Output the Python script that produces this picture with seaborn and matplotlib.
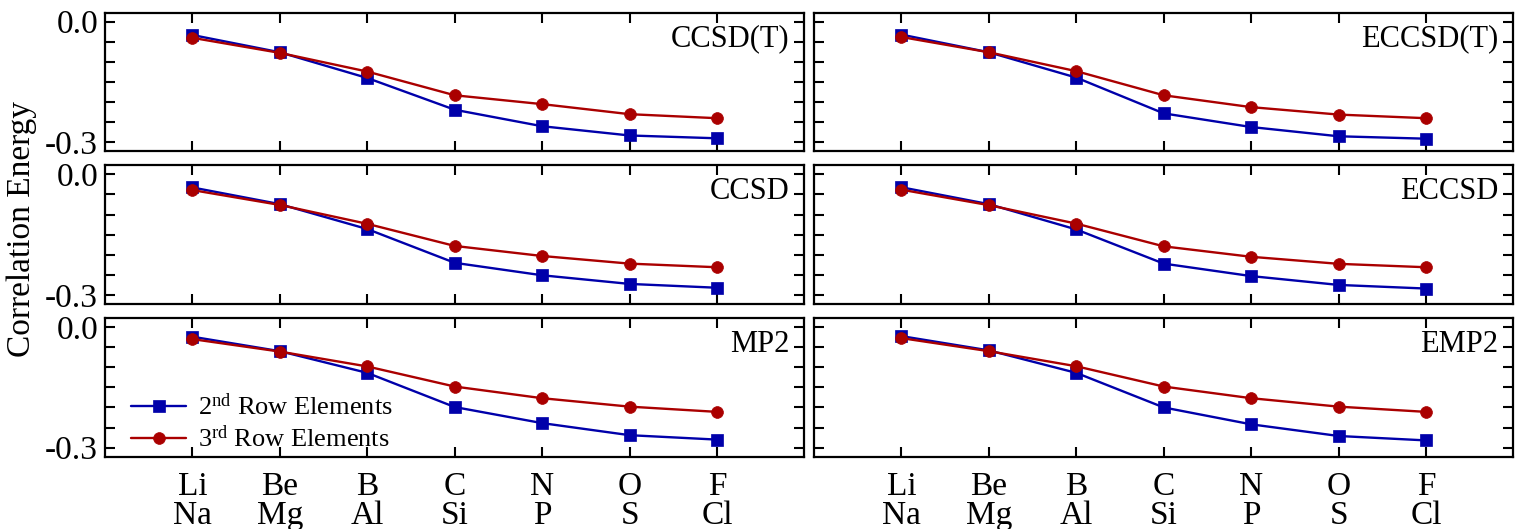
import matplotlib
matplotlib.use("Agg")
import matplotlib.pyplot as plt
import seaborn as sns
import numpy as np
import pandas as pd
from matplotlib.ticker import FixedLocator

sns.set_style("white")
plt.rcParams['font.family'] = ['Liberation Serif', 'DejaVu Serif']
plt.rcParams['mathtext.fontset'] = 'custom'
plt.rcParams['mathtext.rm'] = 'Liberation Serif'
plt.rcParams['mathtext.it'] = 'Liberation Serif:italic'
plt.rcParams['axes.unicode_minus'] = False
for key in ['text.color', 'axes.labelcolor', 'xtick.color', 'ytick.color', 'axes.edgecolor']:
    plt.rcParams[key] = 'black'

# ---- data ----
elements_2nd = ["Li", "Be", "B", "C", "N", "O", "F"]
elements_3rd = ["Na", "Mg", "Al", "Si", "P", "S", "Cl"]
tick_labels = [f"{a}\n{b}" for a, b in zip(elements_2nd, elements_3rd)]

methods = ["CCSD(T)", "ECCSD(T)", "CCSD", "ECCSD", "MP2", "EMP2"]

ccsdt_2nd = [-0.033, -0.076, -0.140, -0.219, -0.260, -0.283, -0.290]
ccsdt_3rd = [-0.040, -0.0775, -0.124, -0.183, -0.205, -0.230, -0.240]
eccsdt_2nd = [-0.032, -0.076, -0.139, -0.228, -0.262, -0.285, -0.291]
eccsdt_3rd = [-0.038, -0.076, -0.123, -0.183, -0.2125, -0.231, -0.240]
ccsd_2nd = [-0.0325, -0.074, -0.136, -0.220, -0.251, -0.2725, -0.282]
ccsd_3rd = [-0.039, -0.076, -0.123, -0.178, -0.203, -0.222, -0.231]
eccsd_2nd = [-0.032, -0.074, -0.137, -0.222, -0.253, -0.275, -0.284]
eccsd_3rd = [-0.038, -0.0765, -0.1225, -0.179, -0.205, -0.2225, -0.231]
mp2_2nd = [-0.024, -0.060, -0.114, -0.199, -0.239, -0.269, -0.280]
mp2_3rd = [-0.030, -0.061, -0.098, -0.148, -0.177, -0.198, -0.211]
emp2_2nd = [-0.0225, -0.058, -0.114, -0.200, -0.242, -0.271, -0.282]
emp2_3rd = [-0.0275, -0.060, -0.0975, -0.148, -0.177, -0.198, -0.211]

series = {
    "CCSD(T)": (ccsdt_2nd, ccsdt_3rd),
    "ECCSD(T)": (eccsdt_2nd, eccsdt_3rd),
    "CCSD": (ccsd_2nd, ccsd_3rd),
    "ECCSD": (eccsd_2nd, eccsd_3rd),
    "MP2": (mp2_2nd, mp2_3rd),
    "EMP2": (emp2_2nd, emp2_3rd),
}

label_2nd = "2$^{\\rm nd}$ Row Elements"
label_3rd = "3$^{\\rm rd}$ Row Elements"
blue = "#0000AA"
red = "#AA0000"

fig, axes = plt.subplots(3, 2, figsize=(15.15, 5.29), dpi=100)
fig.subplots_adjust(left=0.0693, right=0.999, top=0.976, bottom=0.1367,
                    wspace=0.0136, hspace=0.101)

pos = np.arange(len(elements_2nd))
for k, m in enumerate(methods):
    ax = axes[k // 2, k % 2]
    v2, v3 = series[m]
    df = pd.DataFrame({"pos": np.concatenate([pos, pos]),
                       "energy": v2 + v3,
                       "row": [label_2nd] * len(pos) + [label_3rd] * len(pos)})
    sns.lineplot(data=df[df.row == label_2nd], x="pos", y="energy", ax=ax,
                 color=blue, marker="s", markersize=8, markeredgewidth=0.5,
                 markeredgecolor=blue, linewidth=1.7, label=label_2nd, legend=False)
    sns.lineplot(data=df[df.row == label_3rd], x="pos", y="energy", ax=ax,
                 color=red, marker="o", markersize=8.5, markeredgewidth=0.5,
                 markeredgecolor=red, linewidth=1.7, label=label_3rd, legend=False)
    ax.set_xlim(-1, 7)
    ax.set_ylim(-0.3225, 0.0225)
    ax.set_xlabel("")
    ax.set_ylabel("")
    ax.xaxis.set_major_locator(FixedLocator(pos))
    ax.yaxis.set_major_locator(FixedLocator([-0.3, 0.0]))
    ax.yaxis.set_minor_locator(FixedLocator([-0.25, -0.2, -0.15, -0.1, -0.05]))
    ax.tick_params(which="both", direction="in", top=True, bottom=True,
                   left=True, right=True, length=7, width=1.5, color="black")
    ax.tick_params(axis="x", pad=11, labelsize=24)
    ax.tick_params(axis="y", pad=5, labelsize=24)
    for sp in ax.spines.values():
        sp.set_linewidth(1.6)
        sp.set_color("black")
        sp.set_visible(True)
    if k // 2 == 2:
        ax.set_xticklabels(tick_labels)
        for t in ax.get_xticklabels():
            t.set_linespacing(0.92)
    else:
        ax.set_xticklabels([])
    if k % 2 == 0:
        ax.set_yticklabels(["-0.3", "0.0"])
    else:
        ax.set_yticklabels([])
    ax.text(0.978, 0.755, m, transform=ax.transAxes, ha="right", va="baseline",
            fontsize=22)

leg = axes[2, 0].legend(loc="center left", frameon=False, fontsize=19,
                        handlelength=2.1, bbox_to_anchor=(0.037, 0.245),
                        borderaxespad=0.0, borderpad=0.0,
                        labelspacing=0.2, handletextpad=0.45)

fig.text(22 / 1515, 1 - 229 / 529, "Correlation Energy", rotation=90,
         ha="center", va="center", fontsize=24)

fig.savefig("out.png", dpi=100)
